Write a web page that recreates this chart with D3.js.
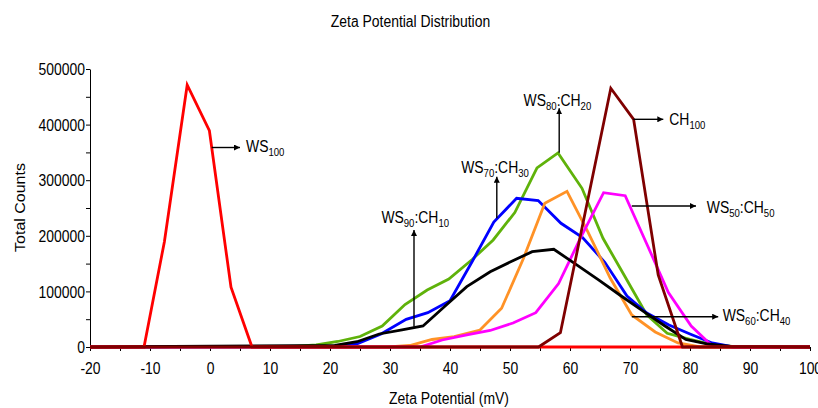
<!DOCTYPE html>
<html>
<head>
<meta charset="utf-8">
<script src="https://cdn.jsdelivr.net/npm/d3@7/dist/d3.min.js"></script>
<style>
  body { margin: 0; background: #fff; }
</style>
</head>
<body>
<script>
// values: zeta potential (mV) and total counts per series
const ws100X = [-20, -11.0, -7.6, -3.8, -0.1, 3.5, 7.0, 100];
const ws100Y = [0, 0, 189400, 471200, 389000, 107400, 0, 0];

const ch100X = [-20, 54.75, 58.4, 66.8, 70.6, 74.7, 78.75, 100];
const ch100Y = [0, 0, 25700, 465300, 409500, 129500, 0, 0];

const ws80X = [-20, 14.0, 17.7, 21.3, 25.0, 28.7, 32.5, 36.2, 39.8, 43.7, 47.2, 50.8, 54.5, 58.0, 62.0, 65.5, 69.2, 72.8, 76.2, 80.0, 83.3, 87.0, 100];
const ws80Y = [0, 900, 3600, 9900, 18900, 37800, 76400, 102500, 122300, 157400, 192500, 241900, 322000, 349000, 285400, 195500, 125900, 57600, 24600, 13800, 5400, 900, 0];

const ws70X = [-20, 20.5, 24.5, 28.5, 32.7, 36.3, 40.0, 43.7, 47.3, 51.1, 54.7, 58.5, 62.1, 65.8, 69.5, 72.8, 76.5, 80.0, 83.7, 87.2, 100];
const ws70Y = [0, 900, 5400, 23400, 49800, 61700, 83300, 153800, 224800, 267500, 263500, 222500, 196900, 152300, 91700, 61200, 39600, 23400, 7200, 0, 0];

const ws90X = [-20, 20.8, 24.5, 28.2, 32.0, 35.5, 39.1, 42.8, 46.7, 50.2, 53.7, 57.3, 61.0, 64.7, 68.3, 72.0, 75.7, 79.3, 83.0, 86.7, 100];
const ws90Y = [0, 2700, 9500, 23400, 30600, 37800, 72800, 108500, 135400, 153800, 171400, 175700, 148700, 121000, 93500, 65800, 38700, 13500, 5400, 900, 0];

const ws60X = [-20, 29.7, 33.3, 37.0, 40.7, 45.0, 48.6, 52.2, 55.8, 59.5, 63.0, 66.7, 70.3, 74.2, 78.0, 81.7, 100];
const ws60Y = [0, 0, 2700, 13500, 18500, 30600, 69600, 158300, 258500, 280000, 206800, 124100, 57600, 27000, 7200, 0, 0];

const ws50X = [-20, 35.0, 38.7, 42.8, 46.7, 50.5, 54.3, 58.1, 61.8, 65.6, 69.2, 72.8, 76.4, 80.2, 83.7, 87.2, 100];
const ws50Y = [0, 0, 12600, 21600, 29700, 43200, 61700, 114200, 197300, 277500, 272100, 185300, 98000, 37800, 1800, 0, 0];

const xTicks = d3.range(-20, 101, 5);
const yTicks = d3.range(0, 500001, 50000);

// labels with subscripts: [text, isSub]
const notes = [
  {x1: 0.28, y1: 358800, x2: 5.0, y2: 358800, tx: 6.0, ty: 351300, anchor: "start", parts: [["WS", 0], ["100", 1]]},
  {x1: 70.55, y1: 409500, x2: 75.55, y2: 409500, tx: 76.55, ty: 399300, anchor: "start", parts: [["CH", 0], ["100", 1]]},
  {x1: 70.3, y1: 253600, x2: 81.0, y2: 253600, tx: 82.8, ty: 241600, anchor: "start", parts: [["WS", 0], ["50", 1], [":CH", 0], ["50", 1]]},
  {x1: 70.3, y1: 54500, x2: 84.7, y2: 54500, tx: 85.45, ty: 47300, anchor: "start", parts: [["WS", 0], ["60", 1], [":CH", 0], ["40", 1]]},
  {x1: 58.2, y1: 349500, x2: 58.2, y2: 429300, tx: 57.9, ty: 433500, anchor: "middle", parts: [["WS", 0], ["80", 1], [":CH", 0], ["20", 1]]},
  {x1: 47.8, y1: 231500, x2: 47.8, y2: 306300, tx: 47.5, ty: 312400, anchor: "middle", parts: [["WS", 0], ["70", 1], [":CH", 0], ["30", 1]]},
  {x1: 34.0, y1: 36500, x2: 34.0, y2: 210400, tx: 34.2, ty: 222500, anchor: "middle", parts: [["WS", 0], ["90", 1], [":CH", 0], ["10", 1]]}
];

const series = [
  {x: ws80X, y: ws80Y, color: "#5fb20a"},
  {x: ws70X, y: ws70Y, color: "#0000ff"},
  {x: ws60X, y: ws60Y, color: "#ff9226"},
  {x: ws50X, y: ws50Y, color: "#ff00ff"},
  {x: ws90X, y: ws90Y, color: "#000000"},
  {x: ws100X, y: ws100Y, color: "#ff0000"},
  {x: ch100X, y: ch100Y, color: "#7f0000"}
];

const width = 818;
const height = 408;
const margin = {top: 69, right: 8, bottom: 61, left: 90};
const squeeze = 0.87;
const font = "'Liberation Sans', Arial, sans-serif";

const x = d3.scaleLinear().domain([-20, 100]).range([margin.left, width - margin.right]);
const y = d3.scaleLinear().domain([0, 500000]).range([height - margin.bottom, margin.top]);

const svg = d3.select("body").append("svg")
  .attr("width", width)
  .attr("height", height)
  .style("font-family", font);

svg.append("defs").append("marker")
  .attr("id", "head")
  .attr("viewBox", "0 0 10 10")
  .attr("refX", 10).attr("refY", 5)
  .attr("markerWidth", 6).attr("markerHeight", 6)
  .attr("markerUnits", "userSpaceOnUse")
  .attr("orient", "auto")
  .append("path").attr("d", "M0,0L10,5L0,10Z").attr("fill", "#000");

// axes
const yAxis = d3.axisLeft(y).tickValues(yTicks).tickSize(4).tickSizeOuter(0)
  .tickFormat(d => d % 100000 === 0 ? d : "");
svg.append("g").attr("transform", `translate(${margin.left},0)`).call(yAxis)
  .call(g => g.selectAll("path, line").attr("stroke", "#000"))
  .call(g => g.selectAll(".tick text")
    .attr("x", 0).attr("dy", "0.36em").attr("fill", "#000")
    .attr("font-size", "16px").attr("font-family", font)
    .attr("transform", `translate(-5,0) scale(${squeeze},1)`));

const xAxis = d3.axisBottom(x).tickValues(xTicks).tickSize(4).tickSizeOuter(0)
  .tickFormat(d => d % 10 === 0 ? d : "");
svg.append("g").attr("transform", `translate(0,${height - margin.bottom})`).call(xAxis)
  .call(g => g.selectAll("path, line").attr("stroke", "#000"))
  .call(g => g.selectAll(".tick text")
    .attr("y", 0).attr("dy", 0).attr("fill", "#000")
    .attr("font-size", "16px").attr("font-family", font)
    .attr("transform", `translate(0,27) scale(${squeeze},1)`));

// lines
const line = d3.line().x(d => x(d[0])).y(d => y(d[1]));
svg.append("g").selectAll("path").data(series).join("path")
  .attr("fill", "none")
  .attr("stroke", d => d.color)
  .attr("stroke-width", 2.8)
  .attr("stroke-linejoin", "miter")
  .attr("d", d => line(d3.zip(d.x, d.y)));

// titles
svg.append("text").attr("text-anchor", "middle").attr("font-size", "16px")
  .attr("transform", `translate(410.5,26.5) scale(${squeeze},1)`)
  .text("Zeta Potential Distribution");
svg.append("text").attr("text-anchor", "middle").attr("font-size", "16px")
  .attr("transform", `translate(449,404) scale(${squeeze},1)`)
  .text("Zeta Potential (mV)");
svg.append("text").attr("text-anchor", "middle").attr("font-size", "16px")
  .attr("transform", `translate(25,207.5) rotate(-90) scale(1,${squeeze})`)
  .text("Total Counts");

// annotations
const ann = svg.append("g");
notes.forEach(n => {
  ann.append("line")
    .attr("x1", x(n.x1)).attr("y1", y(n.y1))
    .attr("x2", x(n.x2)).attr("y2", y(n.y2))
    .attr("stroke", "#000").attr("stroke-width", 1.4)
    .attr("marker-end", "url(#head)");
  const t = ann.append("text")
    .attr("text-anchor", n.anchor)
    .attr("font-size", "16px")
    .attr("transform", `translate(${x(n.tx)},${y(n.ty)}) scale(${squeeze},1)`);
  let shifted = false;
  n.parts.forEach(([s, sub]) => {
    const dy = sub && !shifted ? 4 : (!sub && shifted ? -4 : 0);
    shifted = !!sub;
    t.append("tspan").attr("dy", dy).attr("font-size", sub ? "11px" : "16px").text(s);
  });
});
</script>
</body>
</html>
